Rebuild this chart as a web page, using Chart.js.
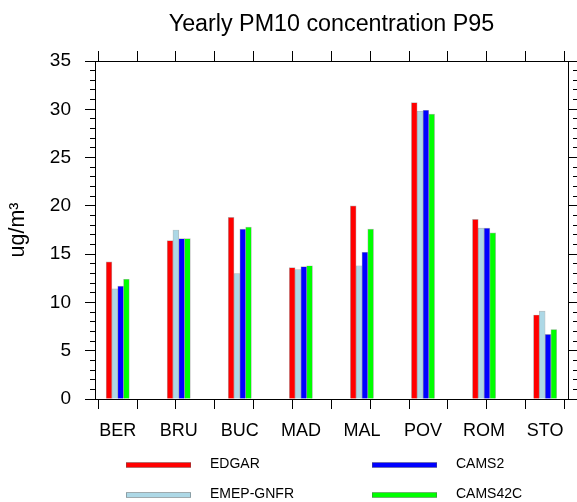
<!DOCTYPE html>
<html><head><meta charset="utf-8">
<script src="https://cdn.jsdelivr.net/npm/chart.js@4"></script>
<style>html,body{margin:0;padding:0;background:#fff;} canvas{display:block;}</style>
</head><body>
<canvas id="c" width="577" height="502"></canvas>
<script>
const categories = ['BER','BRU','BUC','MAD','MAL','POV','ROM','STO'];
const seriesNames = ['EDGAR','EMEP-GNFR','CAMS2','CAMS42C'];
const edgar    = [14.2, 16.4, 18.8, 13.6, 20.0, 30.7, 18.6, 8.7];
const emepGnfr = [11.4, 17.5, 13.0, 13.4, 13.8, 29.8, 17.7, 9.1];
const cams2    = [11.7, 16.6, 17.6, 13.7, 15.2, 29.9, 17.7, 6.7];
const cams42c  = [12.4, 16.6, 17.8, 13.8, 17.6, 29.5, 17.2, 7.2];
const yTickLabels = [0, 5, 10, 15, 20, 25, 30, 35];
const titleText = 'Yearly PM10 concentration P95';
const yTitleText = 'ug/m\u00B3';
const colors = ['#ff0000', '#add8e6', '#0000ff', '#00ff00'];

const FONT = '"Liberation Sans", Arial, Helvetica, sans-serif';
const xMin = -0.372, xMax = 7.375;
const xMinorTicks = [];
for (let k = 0; k <= 11; k++) xMinorTicks.push(k * 7 / 11);
const yMinorTicks = [];
for (let v = 0; v <= 35; v++) yMinorTicks.push(v);

const seriesValues = [edgar, emepGnfr, cams2, cams42c];
const datasets = seriesValues.map((vals, s) => ({
  label: seriesNames[s],
  data: vals.map((v, i) => ({x: i, y: v})),
  backgroundColor: colors[s],
  borderColor: 'rgba(90,90,90,0.45)',
  borderWidth: 0.7,
  barThickness: 5.8,
  xAxisID: 'x',
  yAxisID: 'y'
}));

const isMajor = c => c && c.tick && (Math.round(c.tick.value) % 5 === 0);
const fixSize = (w, h) => s => {
  if (w !== null) s.width = w;
  if (h !== null) s.height = h;
  s.paddingLeft = 0; s.paddingRight = 0; s.paddingTop = 0; s.paddingBottom = 0;
};

const legendPlugin = {
  id: 'nclLegend',
  afterDraw(chart) {
    const ctx = chart.ctx;
    ctx.save();
    chart.data.datasets.forEach((ds, i) => {
      const col = Math.floor(i / 2), row = i % 2;
      const x = 126 + col * 246, y = 465 + row * 30;
      ctx.fillStyle = ds.backgroundColor;
      ctx.fillRect(x, y - 2.5, 65, 5);
      ctx.strokeStyle = 'rgba(90,90,90,0.45)';
      ctx.lineWidth = 1;
      ctx.strokeRect(x + 0.5, y - 2.5, 64, 5);
      ctx.fillStyle = '#000';
      ctx.font = '14px ' + FONT;
      ctx.textBaseline = 'middle';
      ctx.textAlign = 'left';
      ctx.fillText(ds.label, x + 84, y - 0.5);
    });
    ctx.restore();
  }
};

new Chart(document.getElementById('c'), {
  type: 'bar',
  data: { datasets },
  plugins: [legendPlugin],
  options: {
    responsive: false,
    animation: false,
    layout: { padding: { left: 0, right: 0, top: 0, bottom: 60 } },
    plugins: { legend: { display: false }, title: { display: false }, tooltip: { enabled: false } },
    scales: {
      x: {
        type: 'linear', position: 'bottom', min: xMin, max: xMax, offset: false, weight: 0,
        afterBuildTicks: s => { s.ticks = xMinorTicks.map(v => ({value: v})); },
        afterFit: fixSize(null, 10),
        ticks: { display: false },
        grid: { drawOnChartArea: false, drawTicks: true, tickLength: 10, tickColor: '#000', tickWidth: 1 },
        border: { display: true, color: '#000', width: 1 }
      },
      xLabels: {
        type: 'linear', position: 'bottom', min: xMin, max: xMax, offset: false, weight: 1,
        afterBuildTicks: s => { s.ticks = categories.map((c, i) => ({value: i})); },
        afterFit: fixSize(null, 33),
        ticks: {
          autoSkip: false, maxRotation: 0, minRotation: 0, padding: 11, color: '#000',
          font: { family: FONT, size: 18 },
          callback: v => categories[Math.round(v)] ?? ''
        },
        grid: { display: false, drawTicks: false, tickLength: 0 },
        border: { display: false }
      },
      xTop: {
        type: 'linear', position: 'top', min: xMin, max: xMax, offset: false,
        afterBuildTicks: s => { s.ticks = xMinorTicks.map(v => ({value: v})); },
        afterFit: fixSize(null, 61),
        ticks: { display: false },
        grid: { drawOnChartArea: false, drawTicks: true, tickLength: 10, tickColor: '#000', tickWidth: 1 },
        border: { display: true, color: '#000', width: 1 },
        title: { display: true, text: titleText, color: '#000', font: { family: FONT, size: 23.3 }, padding: { top: 11, bottom: 12 } }
      },
      y: {
        type: 'linear', position: 'left', min: 0, max: 35,
        afterBuildTicks: s => { s.ticks = yMinorTicks.map(v => ({value: v})); },
        afterFit: fixSize(95, null),
        ticks: {
          autoSkip: false, padding: 14, color: '#000', font: { family: FONT, size: 19 },
          callback: v => yTickLabels.includes(v) ? String(v) : ''
        },
        grid: {
          drawOnChartArea: false, drawTicks: true, tickLength: 10, tickColor: '#000', tickWidth: 1,
          tickBorderDash: c => isMajor(c) ? [] : [5, 10],
          tickBorderDashOffset: c => isMajor(c) ? 0 : 10
        },
        border: { display: true, color: '#000', width: 1 },
        title: { display: true, text: yTitleText, color: '#000', font: { family: FONT, size: 21.5 }, padding: { top: 5.5, bottom: 19 } }
      },
      y2: {
        type: 'linear', position: 'right', min: 0, max: 35,
        afterBuildTicks: s => { s.ticks = yMinorTicks.map(v => ({value: v})); },
        afterFit: fixSize(9, null),
        ticks: { display: false },
        grid: {
          drawOnChartArea: false, drawTicks: true, tickLength: 9, tickColor: '#000', tickWidth: 1,
          tickBorderDash: c => isMajor(c) ? [] : [5, 10],
          tickBorderDashOffset: c => isMajor(c) ? 0 : 11
        },
        border: { display: true, color: '#000', width: 1 }
      }
    }
  }
});
</script>
</body></html>
